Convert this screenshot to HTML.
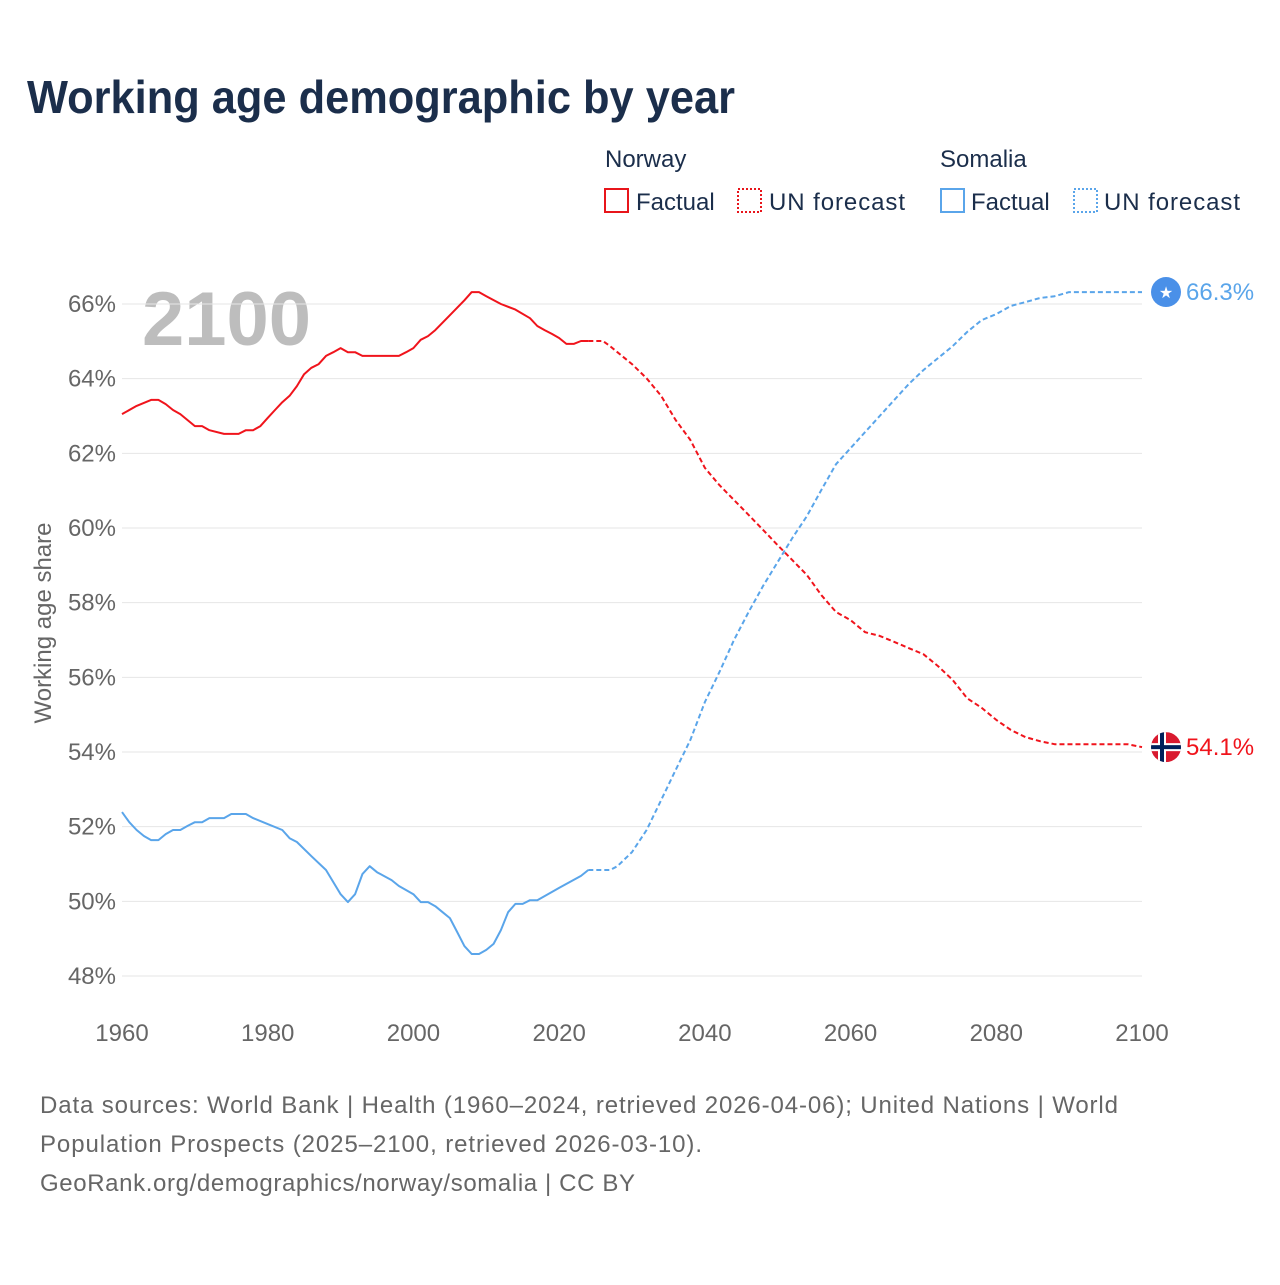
<!DOCTYPE html>
<html><head><meta charset="utf-8"><style>
body{margin:0;background:#fff;width:1280px;height:1280px;overflow:hidden;font-family:"Liberation Sans",sans-serif}
</style></head><body>
<svg id="c" width="1280" height="1280" xmlns="http://www.w3.org/2000/svg">
<text x="27" y="113" font-size="46" font-weight="bold" fill="#1b2e4b" textLength="708" lengthAdjust="spacingAndGlyphs">Working age demographic by year</text>
<g font-size="24" fill="#1b2e4b">
<text x="605" y="167">Norway</text>
<rect x="605" y="189" width="23" height="23" fill="none" stroke="#e8151b" stroke-width="2"/>
<text x="636" y="210">Factual</text>
<rect x="738" y="189" width="23" height="23" fill="none" stroke="#e8151b" stroke-width="2" stroke-dasharray="2,2"/>
<text x="769" y="210" textLength="136">UN forecast</text>
<text x="940" y="167">Somalia</text>
<rect x="941" y="189" width="23" height="23" fill="none" stroke="#5aa5ea" stroke-width="2"/>
<text x="971" y="210">Factual</text>
<rect x="1074" y="189" width="23" height="23" fill="none" stroke="#5aa5ea" stroke-width="2" stroke-dasharray="2,2"/>
<text x="1104" y="210" textLength="136">UN forecast</text>
</g>
<text x="142" y="345" font-size="76" font-weight="bold" fill="#bdbdbd">2100</text>
<text transform="translate(51,623) rotate(-90)" text-anchor="middle" font-size="24" fill="#666">Working age share</text>
<g id="grid"></g><g id="lines"></g><g id="marks"></g>
<g font-size="24" fill="#666">
<text x="40" y="1113" textLength="1078">Data sources: World Bank | Health (1960–2024, retrieved 2026-04-06); United Nations | World</text>
<text x="40" y="1152" textLength="662">Population Prospects (2025–2100, retrieved 2026-03-10).</text>
<text x="40" y="1191" textLength="595">GeoRank.org/demographics/norway/somalia | CC BY</text>
</g>
</svg>
<script>
const yTicks=[48,50,52,54,56,58,60,62,64,66];
const xTicks=[1960,1980,2000,2020,2040,2060,2080,2100];
const norYears=[1960,1962,1964,1965,1966,1967,1968,1969,1970,1971,1972,1974,1976,1977,1978,1979,1980,1981,1982,1983,1984,1985,1986,1987,1988,1989,1990,1991,1992,1993,1998,1999,2000,2001,2002,2003,2005,2007,2008,2009,2010,2012,2014,2016,2017,2018,2019,2020,2021,2022,2023,2024];
const norVals=[63.05,63.27,63.43,63.43,63.32,63.16,63.05,62.89,62.73,62.73,62.62,62.52,62.52,62.62,62.62,62.73,62.95,63.16,63.37,63.54,63.80,64.12,64.29,64.39,64.61,64.71,64.82,64.71,64.71,64.61,64.61,64.71,64.82,65.04,65.14,65.30,65.70,66.10,66.32,66.32,66.21,66.00,65.85,65.62,65.41,65.30,65.20,65.09,64.93,64.93,65.01,65.01];
const norFYears=[2024,2026,2027,2028,2030,2032,2034,2036,2038,2040,2042,2044,2046,2048,2050,2052,2054,2056,2058,2060,2062,2064,2066,2068,2070,2072,2074,2076,2078,2080,2082,2084,2086,2088,2098,2100];
const norFVals=[65.01,65.01,64.87,64.71,64.39,64.01,63.54,62.89,62.36,61.61,61.15,60.75,60.35,59.95,59.54,59.14,58.74,58.20,57.75,57.53,57.21,57.11,56.95,56.78,56.62,56.30,55.93,55.44,55.18,54.86,54.59,54.40,54.29,54.21,54.21,54.13];
const somYears=[1960,1961,1962,1963,1964,1965,1966,1967,1968,1969,1970,1971,1972,1974,1975,1977,1978,1980,1982,1983,1984,1986,1988,1990,1991,1992,1993,1994,1995,1997,1998,2000,2001,2002,2003,2004,2005,2006,2007,2008,2009,2010,2011,2012,2013,2014,2015,2016,2017,2020,2023,2024];
const somVals=[52.39,52.12,51.91,51.75,51.64,51.64,51.80,51.91,51.91,52.02,52.12,52.12,52.23,52.23,52.34,52.34,52.23,52.07,51.91,51.69,51.59,51.21,50.84,50.19,49.98,50.19,50.73,50.94,50.78,50.57,50.41,50.19,49.98,49.98,49.87,49.71,49.55,49.18,48.80,48.59,48.59,48.70,48.86,49.23,49.71,49.93,49.93,50.03,50.03,50.36,50.68,50.84];
const somFYears=[2024,2027,2028,2030,2032,2034,2036,2038,2040,2042,2044,2046,2048,2050,2052,2054,2056,2058,2060,2062,2064,2066,2068,2070,2072,2074,2076,2078,2080,2082,2084,2086,2088,2090,2100];
const somFVals=[50.84,50.84,50.94,51.32,51.91,52.71,53.52,54.32,55.34,56.14,57.00,57.75,58.45,59.09,59.73,60.32,61.02,61.71,62.14,62.57,63.00,63.43,63.86,64.23,64.55,64.87,65.25,65.57,65.73,65.95,66.05,66.16,66.21,66.32,66.32];
const NS='http://www.w3.org/2000/svg';
const X=y=>122+(y-1960)*(1020/140);
const Y=v=>304+(66-v)*(672/18);
function mk(t,a,p){const e=document.createElementNS(NS,t);for(const k in a)e.setAttribute(k,a[k]);p.appendChild(e);return e;}
const g=document.getElementById('grid');
yTicks.forEach(v=>{
 const l=mk('line',{x1:122,x2:1142,y1:Y(v),y2:Y(v),stroke:'#e6e6e6','stroke-width':1},g);
 
 
 const t=mk('text',{x:116,y:Y(v)+8,'text-anchor':'end','font-size':24,fill:'#666'},g);
 t.textContent=v+'%';
 
 
});
xTicks.forEach(v=>{
 const t=mk('text',{x:X(v),y:1041,'text-anchor':'middle','font-size':24,fill:'#666'},g);
 t.textContent=v;
 
 
});
const L=document.getElementById('lines');
function line(xs,vs,col,dash,name){
 const d=xs.map((x,i)=>(i?'L':'M')+X(x).toFixed(1)+','+Y(vs[i]).toFixed(1)).join('');
 const p=mk('path',{d:d,fill:'none',stroke:col,'stroke-width':2,'stroke-dasharray':dash||'none','stroke-linejoin':'round'},L);
 
 
}
line(norYears,norVals,'#f0141c',null,'norway-factual-line');
line(norFYears,norFVals,'#f0141c','5,3','norway-forecast-line');
line(somYears,somVals,'#5aa5ea',null,'somalia-factual-line');
line(somFYears,somFVals,'#5aa5ea','5,3','somalia-forecast-line');
const M=document.getElementById('marks');
const nv=norFVals[norFVals.length-1], sv=somFVals[somFVals.length-1];
const sg=mk('g',{},M);


mk('circle',{cx:1166,cy:Y(sv),r:15,fill:'#4a90e8'},sg);
const st=mk('text',{x:1166,y:Y(sv)+6,'text-anchor':'middle','font-size':16,fill:'#fff'},sg);st.textContent='★';
const sl=mk('text',{x:1186,y:Y(sv)+8,'font-size':24,fill:'#5aa5ea'},M);
sl.textContent=sv.toFixed(1)+'%';


const ng=mk('g',{},M);


const cy=Y(nv);
const cp=mk('clipPath',{id:'nc'},ng);mk('circle',{cx:1166,cy:cy,r:15},cp);
const fg=mk('g',{'clip-path':'url(#nc)'},ng);
mk('rect',{x:1151,y:cy-15,width:30,height:30,fill:'#d91a2f'},fg);
mk('rect',{x:1151,y:cy-4,width:30,height:8,fill:'#fff'},fg);
mk('rect',{x:1158,y:cy-15,width:8,height:30,fill:'#fff'},fg);
mk('rect',{x:1151,y:cy-2,width:30,height:4,fill:'#00205b'},fg);
mk('rect',{x:1160,y:cy-15,width:4,height:30,fill:'#00205b'},fg);
const nl=mk('text',{x:1186,y:cy+8,'font-size':24,fill:'#f0141c'},M);
nl.textContent=nv.toFixed(1)+'%';


</script>
</body></html>
